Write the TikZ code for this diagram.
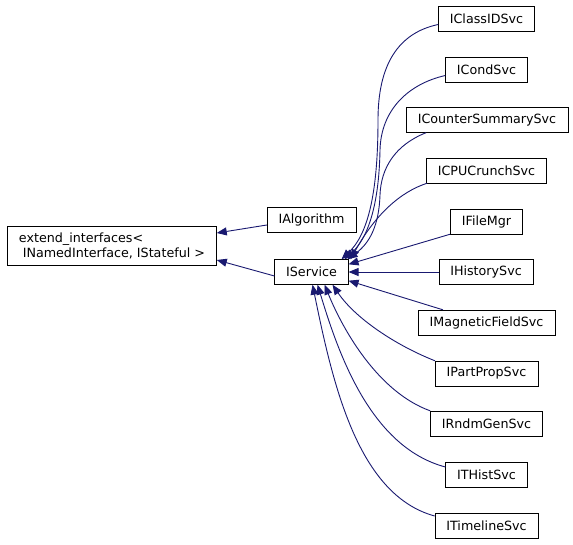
\documentclass[tikz,border=0pt]{standalone}
\usepackage{fontspec}
\setmainfont{DejaVu Sans}
\usetikzlibrary{arrows.meta}
\definecolor{edgeblue}{RGB}{25,25,112}
\begin{document}
\begin{tikzpicture}[x=1pt, y=-1pt,
    cls/.style={draw=black, fill=white, rectangle, inner xsep=11.5pt, inner ysep=0pt, minimum height=25pt, font=\fontsize{12.7}{14.5}\selectfont},
    inherit/.style={draw=edgeblue, line width=0.9pt, -{Triangle[length=10pt,width=8pt]}}]
    \useasboundingbox (0,0) rectangle (573,544);

    \node[cls, minimum height=39pt, align=left] (extend) at (112,246) {extend\_interfaces<\\\hspace*{0.3em}INamedInterface, IStateful >};
    \node[cls] (ialgorithm) at (311.5,220) {IAlgorithm};
    \node[cls] (iservice) at (311.5,272) {IService};

    \node[cls] (iclassidsvc) at (486.5,18.5) {IClassIDSvc};
    \node[cls] (icondsvc) at (486.5,69.5) {ICondSvc};
    \node[cls] (icountersummarysvc) at (487,120) {ICounterSummarySvc};
    \node[cls] (icpucrunchsvc) at (486.5,170.5) {ICPUCrunchSvc};
    \node[cls] (ifilemgr) at (486.5,221.5) {IFileMgr};
    \node[cls] (ihistorysvc) at (486,272) {IHistorySvc};
    \node[cls] (imagneticfieldsvc) at (486.5,322.5) {IMagneticFieldSvc};
    \node[cls] (ipartpropsvc) at (486.5,373.5) {IPartPropSvc};
    \node[cls] (irndmgensvc) at (486.5,423.5) {IRndmGenSvc};
    \node[cls] (ithistsvc) at (486.5,474.5) {ITHistSvc};
    \node[cls] (itimelinesvc) at (486.5,525.5) {ITimelineSvc};

    \draw[inherit] ([yshift=-5pt]ialgorithm.west) -- ([yshift=13pt]extend.east);
    \draw[inherit] ([yshift=-4pt]iservice.west) -- ([yshift=-14pt]extend.east);

    % services above
    \draw[inherit] ([yshift=-6pt]iclassidsvc.west) .. controls (398,33) and (378,65) .. (378,120)
        .. controls (378,200) and (366,236) .. ([xshift=-7pt]iservice.north east);
    \draw[inherit] ([yshift=-6pt]icondsvc.west) .. controls (408,84) and (381,110) .. (380,150)
        .. controls (379,205) and (368,238) .. ([xshift=-4pt]iservice.north east);
    \draw[inherit] ([xshift=20pt]icountersummarysvc.south west) .. controls (395,145) and (381,168) .. (380,195)
        .. controls (379,225) and (370,243) .. ([xshift=-1pt]iservice.north east);
    \draw[inherit] ([xshift=1pt]icpucrunchsvc.south west) .. controls (400,192) and (375,215) .. ([xshift=2pt]iservice.north east);
    \draw[inherit] (ifilemgr.south west) -- ([yshift=-5pt]iservice.north east);
    \draw[inherit] (ihistorysvc.west) -- (iservice.east);
    \draw[inherit] ([xshift=25pt]imagneticfieldsvc.north west) -- ([yshift=4pt]iservice.south east);

    % services below
    \draw[inherit] (ipartpropsvc.north west) .. controls (395,345) and (355,318) .. ([xshift=-16pt]iservice.south east);
    \draw[inherit] (irndmgensvc.north west) .. controls (378,392) and (343,330) .. ([xshift=-24pt]iservice.south east);
    \draw[inherit] ([yshift=7.5pt]ithistsvc.west) .. controls (370,447) and (338,352) .. ([xshift=-31pt]iservice.south east);
    \draw[inherit] ([yshift=9.5pt]itimelinesvc.west) .. controls (358,495) and (333,385) .. ([xshift=-36pt]iservice.south east);
\end{tikzpicture}
\end{document}
